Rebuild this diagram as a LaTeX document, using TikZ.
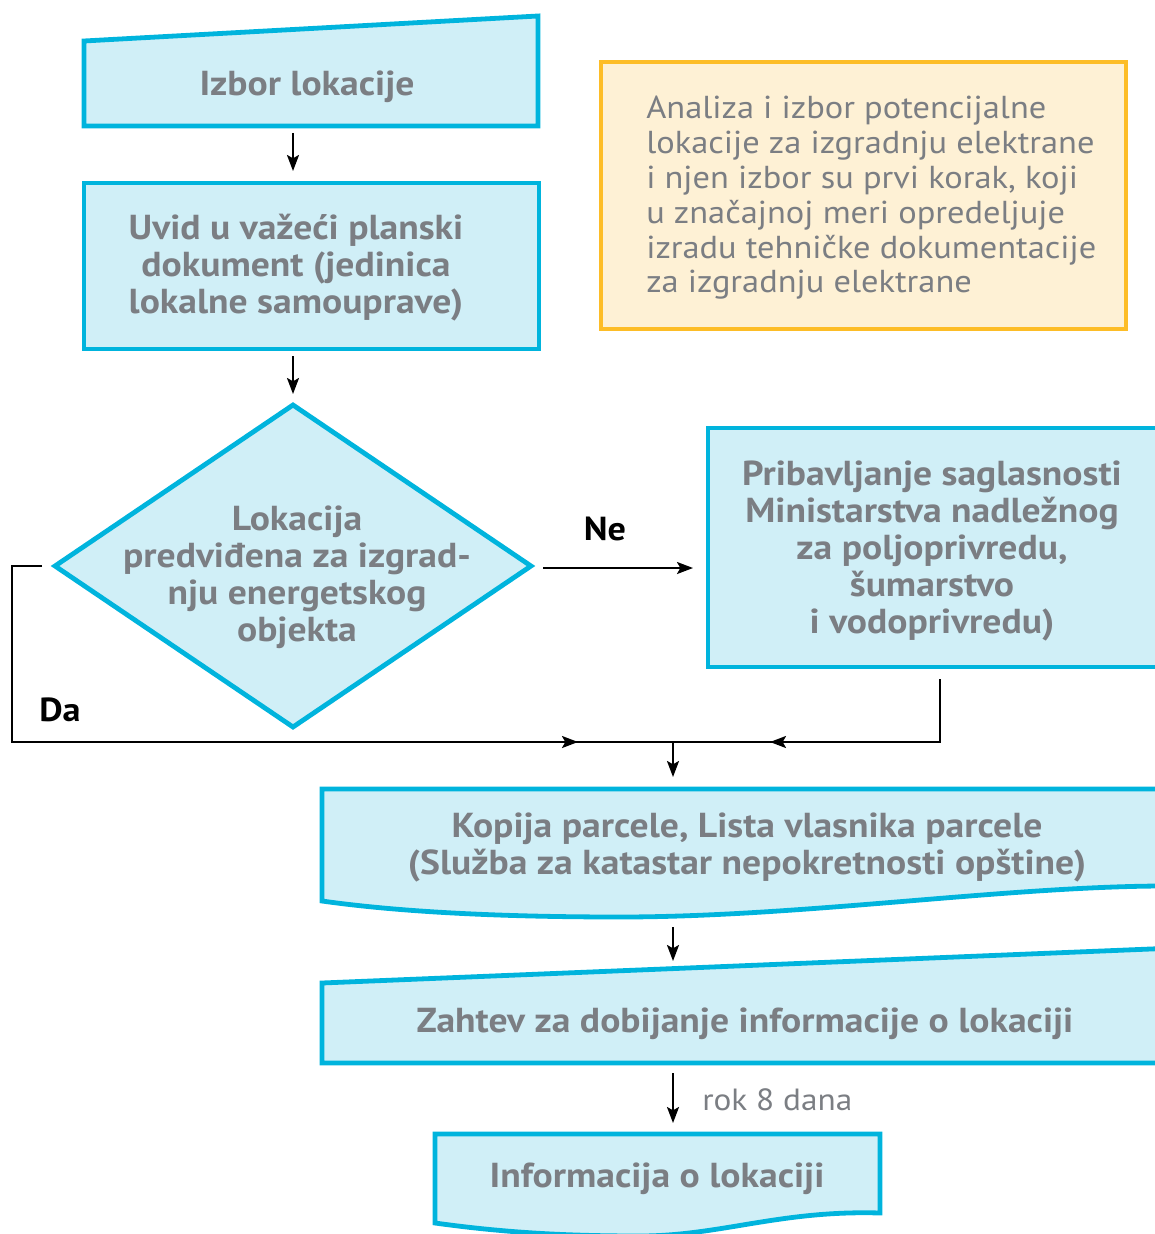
\documentclass[tikz,border=0pt]{standalone}
\usepackage{fontspec}
\setmainfont{PT Sans}[FakeStretch=1.085]
\usetikzlibrary{arrows.meta,calc}
\definecolor{boxfill}{HTML}{D0EFF7}
\definecolor{boxline}{HTML}{00B4DD}
\definecolor{txtgray}{HTML}{7B7E83}
\definecolor{notefill}{HTML}{FEF1D5}
\definecolor{noteline}{HTML}{FDBD27}
\begin{document}
\begin{tikzpicture}[x=0.75pt,y=-0.75pt,
  shapeline/.style={draw=boxline,fill=boxfill,line width=3.6pt,line join=miter},
  steptext/.style={text=txtgray,font=\fontsize{26}{27.75}\selectfont\bfseries,align=center,inner sep=0pt},
  notetext/.style={text=txtgray,font=\fontsize{23.8}{26.1}\selectfont,align=left,inner sep=0pt},
  flow/.style={line width=1.6pt,-{Stealth[length=12pt,width=9pt,inset=2.5pt]}},
  link/.style={line width=1.6pt},
  answer/.style={font=\fontsize{25}{27}\selectfont\bfseries,text=black,inner sep=0pt}]
\useasboundingbox (0,0) rectangle (1155,1234);
\clip (0,0) rectangle (1155,1234);

% ---- shapes ----
\draw[shapeline] (84,41) -- (538,16) -- (538,126) -- (84,126) -- cycle;
\draw[shapeline] (84,183) rectangle (539,349);
\draw[shapeline] (293,405) -- (531,566) -- (293,727) -- (55,566) -- cycle;
\draw[shapeline] (708,428) rectangle (1175,667);
\draw[draw=noteline,fill=notefill,line width=3pt] (601,62) rectangle (1126,329);
\draw[shapeline] (322,789) -- (1175,789) -- (1175,886) -- (1160,886)
  .. controls (1000,887) and (800,917) .. (620,917)
  .. controls (500,917) and (400,912) .. (322,901) -- cycle;
\draw[shapeline] (322,983) -- (1175,948) -- (1175,1063) -- (322,1063) -- cycle;
\draw[shapeline] (435,1134) -- (880,1134) -- (880,1213)
  .. controls (780,1210) and (720,1236) .. (640,1236)
  .. controls (560,1236) and (500,1232) .. (435,1223) -- cycle;

% ---- texts ----
\node[steptext] (izbor) at (307,87) {Izbor lokacije};
\node[steptext] (uvid) at (296,268) {Uvid u važeći planski\\dokument (jedinica\\lokalne samouprave)};
\node[steptext] (odluka) at (297,577) {Lokacija\\predviđena za izgrad-\\nju energetskog\\objekta};
\node[steptext] (saglasnost) at (932,551) {Pribavljanje saglasnosti\\Ministarstva nadležnog\\za poljoprivredu,\\šumarstvo\\i vodoprivredu)};
\node[notetext,anchor=west] (napomena) at (646,198) {Analiza i izbor potencijalne\\lokacije za izgradnju elektrane\\i njen izbor su prvi korak, koji\\u značajnoj meri opredeljuje\\izradu tehničke dokumentacije\\za izgradnju elektrane};
\node[steptext] (kopija) at (747,847) {Kopija parcele, Lista vlasnika parcele\\(Služba za katastar nepokretnosti opštine)};
\node[steptext] (zahtev) at (745,1024) {Zahtev za dobijanje informacije o lokaciji};
\node[steptext] (informacija) at (657,1179) {Informacija o lokaciji};
\node[answer] (ne) at (605,529) {Ne};
\node[answer] (da) at (60,710) {Da};
\node[notetext,anchor=west,font=\fontsize{23}{26}\selectfont] (rok) at (702,1100) {rok 8 dana};

% ---- connector ends ----
\coordinate (izborS) at (293,133);
\coordinate (uvidN) at (293,171);
\coordinate (uvidS) at (293,356);
\coordinate (odlukaN) at (293,394);
\coordinate (odlukaW) at (42,566);
\coordinate (odlukaE) at (543,568);
\coordinate (saglW) at (693,568);
\coordinate (saglS) at (940,679);
\coordinate (spoj) at (673,742);
\coordinate (kopijaN) at (673,777);
\coordinate (kopijaS) at (673,927);
\coordinate (zahtevN) at (673,961);
\coordinate (zahtevS) at (673,1073);
\coordinate (informacijaN) at (673,1123);

% ---- connectors ----
\draw[flow] (izborS) -- (uvidN);
\draw[flow] (uvidS) -- (odlukaN);
\draw[flow] (odlukaE) -- (saglW);
\draw[link] (odlukaW) -| (12,742) -- (spoj);
\draw[flow] (12,742) -- (578,742);
\draw[link] (saglS) |- (spoj);
\draw[flow] (940,742) -- (770,742);
\draw[flow] (spoj) -- (kopijaN);
\draw[flow] (kopijaS) -- (zahtevN);
\draw[flow] (zahtevS) -- (informacijaN);
\end{tikzpicture}
\end{document}
